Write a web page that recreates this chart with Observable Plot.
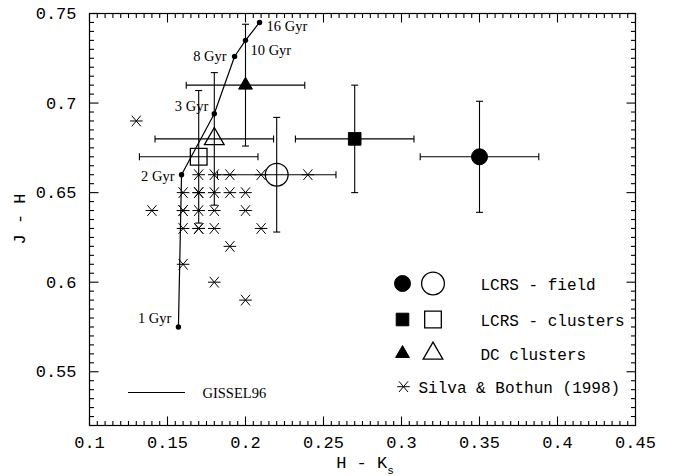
<!DOCTYPE html>
<html><head><meta charset="utf-8">
<script src="https://cdn.jsdelivr.net/npm/d3@7"></script>
<script src="https://cdn.jsdelivr.net/npm/@observablehq/plot@0.6"></script>
<style>
html,body{margin:0;padding:0;background:#fff;}
#chart{width:674px;height:476px;}
</style></head><body><div id="chart"></div>
<script>
// GISSEL96 model track
const modelAge = ["1 Gyr","2 Gyr","3 Gyr","8 Gyr","10 Gyr","16 Gyr"];
const modelHK = [0.157,0.159,0.180,0.193,0.200,0.209];
const modelJH = [0.575,0.660,0.694,0.726,0.735,0.745];

// samples with error bars
const sampleName = ["LCRS - field","LCRS - field","LCRS - clusters","LCRS - clusters","DC clusters","DC clusters"];
const sampleFilled = [true,false,true,false,true,false];
const sampleHK = [0.350,0.220,0.270,0.170,0.200,0.180];
const sampleJH = [0.670,0.660,0.680,0.670,0.710,0.680];
const sampleHKerr = [0.038,0.038,0.038,0.038,0.038,0.038];
const sampleJHerr = [0.031,0.032,0.030,0.037,0.034,0.037];

// Silva & Bothun (1998)
const silvaHK = [0.13, 0.17,0.18,0.19,0.21,0.24, 0.16,0.17,0.17,0.18,0.19,0.20, 0.14,0.16,0.16,0.17,0.18,0.20, 0.16,0.17,0.17,0.18,0.21, 0.19, 0.16, 0.18, 0.20];
const silvaJH = [0.69, 0.66,0.66,0.66,0.66,0.66, 0.65,0.65,0.65,0.65,0.65,0.65, 0.64,0.64,0.64,0.64,0.64,0.64, 0.63,0.63,0.63,0.63,0.63, 0.62, 0.61, 0.60, 0.59];

const xTickValues = [0.1,0.15,0.2,0.25,0.3,0.35,0.4,0.45];
const xTickLabels = ["0.1","0.15","0.2","0.25","0.3","0.35","0.4","0.45"];
const yTickValues = [0.55,0.6,0.65,0.7,0.75];
const yTickLabels = ["0.55","0.6","0.65","0.7","0.75"];
const legendLabels = ["LCRS - field","LCRS - clusters","DC clusters","Silva & Bothun (1998)"];
const modelLabel = "GISSEL96";
const xTitle = "H - K", xTitleSub = "s", yTitle = "J - H";

const xDomain = [0.1, 0.45];
const yDomain = [0.52, 0.75];

// tables
const model = modelAge.map((age,i)=>({age, hk:modelHK[i], jh:modelJH[i]}));
const samples = sampleName.map((name,i)=>({name, filled:sampleFilled[i], hk:sampleHK[i], jh:sampleJH[i], ex:sampleHKerr[i], ey:sampleJHerr[i]}));
const silva = silvaHK.map((hk,i)=>({hk, jh:silvaJH[i]}));

const isMajor = (v, list) => list.some(m => Math.abs(m - v) < 1e-9);
const xMinor = d3.range(0, 71).map(i => +(0.1 + i*0.005).toFixed(3)).filter(v => !isMajor(v, xTickValues));
const yMinor = d3.range(0, 47).map(i => +(0.52 + i*0.005).toFixed(3)).filter(v => !isMajor(v, yTickValues));

// custom symbols
const rOf = s => Math.sqrt(s/Math.PI);
const vbar = {draw(c,s){const r=rOf(s); c.moveTo(0,-r); c.lineTo(0,r);}};
const hbar = {draw(c,s){const r=rOf(s); c.moveTo(-r,0); c.lineTo(r,0);}};
const tickUp = {draw(c,s){const r=rOf(s); c.moveTo(0,0); c.lineTo(0,-r);}};
const tickDown = {draw(c,s){const r=rOf(s); c.moveTo(0,0); c.lineTo(0,r);}};
const tickRight = {draw(c,s){const r=rOf(s); c.moveTo(0,0); c.lineTo(r,0);}};
const tickLeft = {draw(c,s){const r=rOf(s); c.moveTo(0,0); c.lineTo(-r,0);}};
const star = {draw(c,s){const r=rOf(s); c.moveTo(-r,0); c.lineTo(r,0);
  const a=r*0.72, b=r*0.85; c.moveTo(-a,-b); c.lineTo(a,b); c.moveTo(-a,b); c.lineTo(a,-b);}};

const shapeOf = {"LCRS - field":"circle","LCRS - clusters":"square","DC clusters":"triangle"};
const d3Shape = {circle:d3.symbolCircle, square:d3.symbolSquare, triangle:d3.symbolTriangle};
const radius = {circle:[8.0,11.4], square:[7.1,9.4], triangle:[5.1,7.3]};

const mono = "Liberation Mono, DejaVu Sans Mono, monospace";
const serif = "Liberation Serif, DejaVu Serif, serif";

const sampleMarks = [];
for (const name of legendLabels.slice(0,3)) for (const filled of [true,false]) {
  const shape = shapeOf[name];
  sampleMarks.push(Plot.dot(samples.filter(d=>d.name===name && d.filled===filled), {
    x:"hk", y:"jh", symbol:shape, r:radius[shape][filled?0:1],
    fill: filled ? "black" : "none", stroke:"black", strokeWidth: filled ? 1 : 1.3
  }));
}

const ageOffsets = {
  "1 Gyr": {dx:-7, dy:-9, a:"end"},
  "2 Gyr": {dx:-7, dy:2, a:"end"},
  "3 Gyr": {dx:-6, dy:-7, a:"end"},
  "8 Gyr": {dx:-8, dy:0, a:"end"},
  "10 Gyr": {dx:5, dy:10, a:"start"},
  "16 Gyr": {dx:7, dy:4, a:"start"}
};
const ageMarks = modelAge.map(age => Plot.text(model.filter(d=>d.age===age), {
  x:"hk", y:"jh", text:"age", dx:ageOffsets[age].dx, dy:ageOffsets[age].dy,
  textAnchor:ageOffsets[age].a, fontFamily:serif, fontSize:14.5, fill:"black"
}));

const fmtX = d => xTickLabels[xTickValues.findIndex(v=>Math.abs(v-d)<1e-9)];
const fmtY = d => yTickLabels[yTickValues.findIndex(v=>Math.abs(v-d)<1e-9)];

// inward frame ticks drawn as short line symbols anchored on the frame edges
const tk = {fill:"none", stroke:"black", strokeWidth:1.1};
const frameTickMarks = [
  Plot.dot(xMinor, {x:d=>d, y:()=>yDomain[0], symbol:tickUp, r:4.5, ...tk}),
  Plot.dot(xMinor, {x:d=>d, y:()=>yDomain[1], symbol:tickDown, r:4.5, ...tk}),
  Plot.dot(xTickValues, {x:d=>d, y:()=>yDomain[0], symbol:tickUp, r:9, ...tk}),
  Plot.dot(xTickValues, {x:d=>d, y:()=>yDomain[1], symbol:tickDown, r:9, ...tk}),
  Plot.dot(yMinor, {y:d=>d, x:()=>xDomain[0], symbol:tickRight, r:4.5, ...tk}),
  Plot.dot(yMinor, {y:d=>d, x:()=>xDomain[1], symbol:tickLeft, r:4.5, ...tk}),
  Plot.dot(yTickValues, {y:d=>d, x:()=>xDomain[0], symbol:tickRight, r:9, ...tk}),
  Plot.dot(yTickValues, {y:d=>d, x:()=>xDomain[1], symbol:tickLeft, r:9, ...tk})
];

function overlay(index, scales, values, dims) {
  const L = dims.marginLeft, T = dims.marginTop;
  const B = dims.height - dims.marginBottom, R = dims.width - dims.marginRight;
  const g = d3.create("svg:g").attr("fill","black").attr("text-anchor","start");
  g.append("text").attr("transform",`translate(25,${(T+B)/2}) rotate(-90)`)
    .attr("text-anchor","middle").attr("font-family",mono).attr("font-size",17).text(yTitle);
  const xt = g.append("text").attr("x",(L+R)/2+3).attr("y",B+43)
    .attr("text-anchor","middle").attr("font-family",mono).attr("font-size",17);
  xt.append("tspan").text(xTitle);
  xt.append("tspan").attr("font-size",11).attr("dy",6).text(xTitleSub);
  const rowY = [270.5, 306.5, 340.5];
  legendLabels.slice(0,3).forEach((name,i) => {
    const shape = shapeOf[name];
    const y = T + rowY[i];
    g.append("path").attr("transform",`translate(${L+313.5},${y})`)
      .attr("d", d3.symbol(d3Shape[shape], Math.PI*radius[shape][0]**2)())
      .attr("fill","black").attr("stroke","black");
    g.append("path").attr("transform",`translate(${L+344},${y})`)
      .attr("d", d3.symbol(d3Shape[shape], Math.PI*radius[shape][1]**2)())
      .attr("fill","none").attr("stroke","black").attr("stroke-width",1.3);
    g.append("text").attr("x",L+391.5).attr("y",y+6).attr("font-family",mono)
      .attr("font-size",16).text(name);
  });
  const sy = T + 373.7;
  g.append("path").attr("transform",`translate(${L+314.5},${sy})`)
    .attr("d", d3.symbol(star, Math.PI*6.3**2)()).attr("fill","none").attr("stroke","black");
  g.append("text").attr("x",L+329.5).attr("y",sy+6).attr("font-family",mono)
    .attr("font-size",16).text(legendLabels[3]);
  g.append("line").attr("x1",L+39).attr("x2",L+96).attr("y1",T+379.5).attr("y2",T+379.5)
    .attr("stroke","black").attr("stroke-width",1.2);
  g.append("text").attr("x",L+113.5).attr("y",T+384.5).attr("font-family",serif)
    .attr("font-size",14.5).text(modelLabel);
  return g.node();
}

const ink = {stroke:"black", strokeWidth:1.1};
const plot = Plot.plot({
  width:674, height:476,
  marginLeft:89, marginRight:39, marginTop:13, marginBottom:51,
  x:{domain:xDomain},
  y:{domain:yDomain},
  style:{fontFamily:mono, fontSize:"17px", background:"white", color:"black"},
  marks:[
    Plot.axisX(xTickValues, {anchor:"bottom", tickSize:0, tickPadding:10, tickFormat:fmtX, label:null, fontSize:17, fontFamily:mono}),
    Plot.axisY(yTickValues, {anchor:"left", tickSize:0, tickPadding:13, tickFormat:fmtY, label:null, fontSize:17, fontFamily:mono}),
    Plot.frame({stroke:"black", strokeWidth:1.2, fill:"none"}),
    ...frameTickMarks,
    Plot.link(samples, {x1:d=>d.hk-d.ex, x2:d=>d.hk+d.ex, y1:"jh", y2:"jh", ...ink}),
    Plot.link(samples, {x1:"hk", x2:"hk", y1:d=>d.jh-d.ey, y2:d=>d.jh+d.ey, ...ink}),
    Plot.dot(samples, {x:d=>d.hk-d.ex, y:"jh", symbol:vbar, r:3.5, fill:"none", ...ink}),
    Plot.dot(samples, {x:d=>d.hk+d.ex, y:"jh", symbol:vbar, r:3.5, fill:"none", ...ink}),
    Plot.dot(samples, {x:"hk", y:d=>d.jh-d.ey, symbol:hbar, r:3.5, fill:"none", ...ink}),
    Plot.dot(samples, {x:"hk", y:d=>d.jh+d.ey, symbol:hbar, r:3.5, fill:"none", ...ink}),
    Plot.dot(silva, {x:"hk", y:"jh", symbol:star, r:6.3, fill:"none", stroke:"black", strokeWidth:1}),
    Plot.line(model, {x:"hk", y:"jh", stroke:"black", strokeWidth:1.2}),
    Plot.dot(model, {x:"hk", y:"jh", r:2.7, fill:"black", stroke:"none"}),
    ...ageMarks,
    ...sampleMarks,
    overlay
  ]
});
document.getElementById("chart").appendChild(plot);
</script>
</body></html>
